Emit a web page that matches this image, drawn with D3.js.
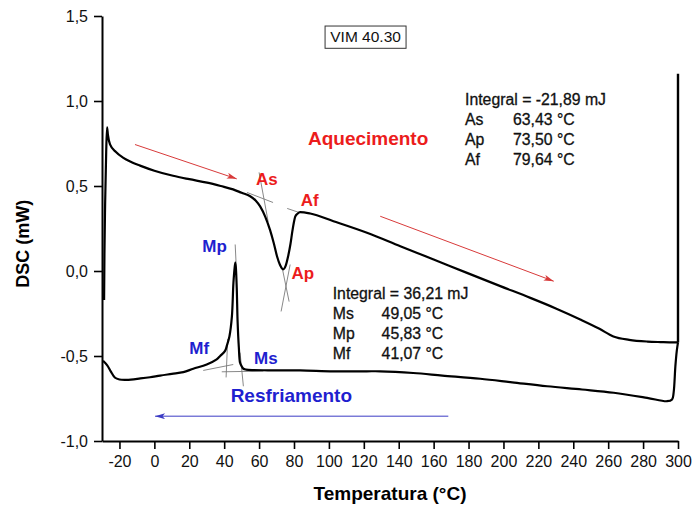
<!DOCTYPE html>
<html>
<head>
<meta charset="utf-8">
<script src="https://cdn.jsdelivr.net/npm/d3@7.9.0/dist/d3.min.js"></script>
<style>
  body { margin: 0; background: #fff; }
  svg { display: block; font-family: "Liberation Sans", Arial, sans-serif; }
</style>
</head>
<body>
<svg id="chart" width="693" height="506"></svg>
<script>
// heating run (Aquecimento), temperature in °C and DSC in mW
const heatT = [-28.8, -28.6, -28.2, -27.6, -27.1, -26.6, -25.4, -22, -18, -13, -8.2, 0, 10.7, 20, 30.2, 38, 45.1, 50, 54.9, 58, 60.6, 63.5, 66.3, 68.5, 70.3, 72, 73.8, 75.2, 76.6, 78, 79, 80, 80.7, 82, 83.5, 89.3, 102.6, 121.8, 140.9, 160, 179.1, 198.2, 215.4, 230, 244, 255, 263, 272, 282.5, 290, 297.5, 300];
const heatV = [-0.17, 0.1, 0.4, 0.7, 0.845, 0.80, 0.745, 0.70, 0.667, 0.64, 0.62, 0.59, 0.56, 0.54, 0.52, 0.50, 0.48, 0.46, 0.44, 0.415, 0.38, 0.32, 0.24, 0.16, 0.085, 0.035, 0.01, 0.03, 0.085, 0.16, 0.23, 0.29, 0.32, 0.337, 0.346, 0.338, 0.293, 0.225, 0.146, 0.068, -0.011, -0.089, -0.158, -0.22, -0.285, -0.34, -0.385, -0.405, -0.415, -0.418, -0.42, -0.42];

// isothermal step at the end of heating
const holdT = [300, 300];
const holdV = [-0.42, 1.16];

// cooling run (Resfriamento), read from 300 °C downwards
const coolT = [300, 299.3, 298.5, 297.5, 296.6, 293.7, 282.3, 263.2, 245, 225, 205, 186.7, 165, 148.3, 129.4, 121.7, 102.5, 83.5, 65, 56.8, 52.5, 51, 50, 49.1, 48.4, 47.7, 47.2, 46.7, 46.4, 46.0, 45.3, 44.4, 43, 41.5, 40.5, 37.7, 35.7, 30, 22.3, 16.6, 10, 3.3, -2.5, -8, -15.8, -20, -22.5, -25, -27, -29.4];
const coolV = [-0.42, -0.47, -0.56, -0.715, -0.756, -0.766, -0.746, -0.716, -0.697, -0.678, -0.655, -0.634, -0.615, -0.60, -0.59, -0.59, -0.59, -0.585, -0.584, -0.583, -0.58, -0.575, -0.56, -0.54, -0.45, -0.3, -0.1, 0.02, 0.05, 0.02, -0.07, -0.27, -0.385, -0.44, -0.47, -0.50, -0.52, -0.55, -0.575, -0.595, -0.605, -0.615, -0.625, -0.632, -0.64, -0.638, -0.628, -0.59, -0.555, -0.528];

// thin construction lines for onset / peak / end temperatures [T1, v1, T2, v2]
const tangents = [
  [53.1, 0.462, 68, 0.403],
  [60, 0.58, 65.2, 0.29],
  [76.1, 0.368, 82.4, 0.346],
  [72.6, -0.238, 77.8, 0.038],
  [73.2, 0.02, 77.2, -0.18],
  [46.3, 0.156, 46.8, 0.05],
  [42, -0.40, 41.1, -0.626],
  [28, -0.585, 45.2, -0.55],
  [38.6, -0.593, 62.5, -0.589],
  [49.1, -0.48, 51, -0.678]
];

// direction arrows [T1, v1, T2, v2, kind]
const arrows = [
  [-11.1, 0.744, 47.2, 0.542, "heat"],
  [129.4, 0.322, 228.8, -0.06, "heat"],
  [168.4, -0.854, 0.4, -0.854, "cool"]
];

// point labels [text, T, v, kind]
const pointLabels = [
  ["As", 58.2, 0.506, "heat"],
  ["Af", 83.8, 0.382, "heat"],
  ["Ap", 78.6, -0.049, "heat"],
  ["Mp", 27.5, 0.113, "cool"],
  ["Mf", 20.0, -0.488, "cool"],
  ["Ms", 57.1, -0.547, "cool"],
  ["Aquecimento", 88.0, 0.741, "heat"],
  ["Resfriamento", 43.7, -0.772, "cool"]
];

const heatStats = [["Integral = -21,89 mJ", ""], ["As", "63,43 °C"], ["Ap", "73,50 °C"], ["Af", "79,64 °C"]];
const coolStats = [["Integral = 36,21 mJ", ""], ["Ms", "49,05 °C"], ["Mp", "45,83 °C"], ["Mf", "41,07 °C"]];
const sampleName = "VIM 40.30";

const xMajor = d3.range(-20, 301, 20);
const xMinor = d3.range(-10, 300, 20);
const yMajor = [-1.0, -0.5, 0.0, 0.5, 1.0, 1.5];
const yMinor = [-0.75, -0.25, 0.25, 0.75, 1.25];

const colors = { heat: "#ec1c1c", cool: "#1f1fcf", arrowHeat: "#d83a3a", arrowCool: "#3b3bc4" };

const svg = d3.select("#chart");
const x = d3.scaleLinear().domain([-30, 300]).range([102, 678]);
const y = d3.scaleLinear().domain([-1, 1.5]).range([441, 16]);
const comma = d => d.toFixed(1).replace(".", ",");

// axes
const gy = svg.append("g").attr("transform", `translate(${x.range()[0]},0)`);
gy.call(d3.axisLeft(y).tickValues(yMinor).tickSize(4).tickFormat(""));
gy.call(d3.axisLeft(y).tickValues(yMajor).tickSize(8).tickSizeOuter(0).tickPadding(6).tickFormat(comma));

const gx = svg.append("g").attr("transform", `translate(0,${y.range()[0]})`);
gx.call(d3.axisBottom(x).tickValues(xMinor).tickSize(4).tickFormat(""));
gx.call(d3.axisBottom(x).tickValues(xMajor).tickSize(8).tickSizeOuter(0).tickPadding(7).tickFormat(d => String(d)));

svg.selectAll(".domain").attr("stroke", "#000").attr("stroke-width", 2);
svg.selectAll(".tick line").attr("stroke", "#000").attr("stroke-width", 1.6);
svg.selectAll(".tick text").attr("font-size", 16).attr("fill", "#111")
  .attr("font-family", "'Liberation Sans', Arial, sans-serif");

// axis titles
svg.append("text")
  .attr("transform", `translate(29,${y(0.16)}) rotate(-90)`)
  .attr("text-anchor", "middle")
  .attr("font-size", 18).attr("font-weight", "bold")
  .text("DSC (mW)");

svg.append("text")
  .attr("x", 390).attr("y", 500)
  .attr("text-anchor", "middle")
  .attr("font-size", 19).attr("font-weight", "bold")
  .text("Temperatura (°C)");

// construction lines
svg.append("g").selectAll("line").data(tangents).join("line")
  .attr("x1", d => x(d[0])).attr("y1", d => y(d[1]))
  .attr("x2", d => x(d[2])).attr("y2", d => y(d[3]))
  .attr("stroke", "#7a7a7a").attr("stroke-width", 0.9);

// curves
const line = d3.line().x(d => x(d[0])).y(d => y(d[1]));
const heat = heatT.map((t, i) => [t, heatV[i]]);
const hold = holdT.map((t, i) => [t, holdV[i]]);
const cool = coolT.map((t, i) => [t, coolV[i]]);

svg.append("path").datum(heat)
  .attr("d", line.curve(d3.curveMonotoneX))
  .attr("fill", "none").attr("stroke", "#000").attr("stroke-width", 2.2).attr("stroke-linejoin", "round");
svg.append("path").datum(hold)
  .attr("d", line.curve(d3.curveLinear))
  .attr("fill", "none").attr("stroke", "#000").attr("stroke-width", 2.4);
svg.append("path").datum(cool)
  .attr("d", line.curve(d3.curveCatmullRom.alpha(0.5)))
  .attr("fill", "none").attr("stroke", "#000").attr("stroke-width", 2.2).attr("stroke-linejoin", "round");

// arrows
const defs = svg.append("defs");
[["heat", colors.arrowHeat], ["cool", colors.arrowCool]].forEach(([k, c]) => {
  defs.append("marker")
    .attr("id", "head-" + k)
    .attr("viewBox", "0 0 10 6").attr("refX", 10).attr("refY", 3)
    .attr("markerWidth", 11).attr("markerHeight", 6)
    .attr("markerUnits", "userSpaceOnUse")
    .attr("orient", "auto")
    .append("path").attr("d", "M0,0 L10,3 L0,6 L2.5,3 Z").attr("fill", c);
});

svg.append("g").selectAll("line").data(arrows).join("line")
  .attr("x1", d => x(d[0])).attr("y1", d => y(d[1]))
  .attr("x2", d => x(d[2])).attr("y2", d => y(d[3]))
  .attr("stroke", d => d[4] === "heat" ? colors.arrowHeat : colors.arrowCool)
  .attr("stroke-width", 1)
  .attr("marker-end", d => `url(#head-${d[4]})`);

// labels on the curves
svg.append("g").selectAll("text").data(pointLabels).join("text")
  .attr("x", d => x(d[1])).attr("y", d => y(d[2]))
  .attr("font-size", d => d[0].length > 2 ? 19 : 17)
  .attr("font-weight", "bold")
  .attr("fill", d => colors[d[3]])
  .text(d => d[0]);

// result tables
function statBlock(rows, t0, t1, v0) {
  const g = svg.append("g")
    .attr("font-size", 15.8).attr("fill", "#111")
    .attr("stroke", "#111").attr("stroke-width", 0.3);
  rows.forEach((r, i) => {
    g.append("text").attr("x", x(t0)).attr("y", y(v0) + i * 20).text(r[0]);
    if (r[1]) g.append("text").attr("x", x(t1)).attr("y", y(v0) + i * 20).text(r[1]);
  });
}
statBlock(heatStats, 178.0, 205.5, 0.974);
statBlock(coolStats, 102.2, 130.2, -0.166);

// sample name box
svg.append("rect")
  .attr("x", x(97.8)).attr("y", y(1.441))
  .attr("width", x(144.2) - x(97.8)).attr("height", y(1.310) - y(1.441))
  .attr("fill", "none").attr("stroke", "#333").attr("stroke-width", 1);
svg.append("text")
  .attr("x", x(121)).attr("y", y(1.348))
  .attr("text-anchor", "middle").attr("font-size", 15.5).attr("fill", "#111")
  .text(sampleName);
</script>
</body>
</html>
